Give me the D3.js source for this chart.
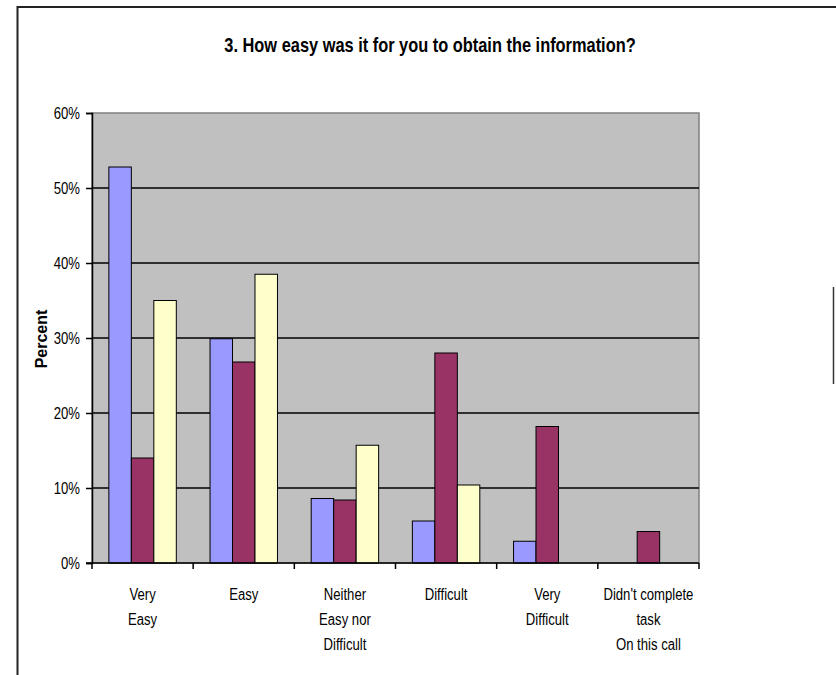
<!DOCTYPE html>
<html>
<head>
<meta charset="utf-8">
<script src="https://cdn.jsdelivr.net/npm/d3@7"></script>
<style>
  body { margin: 0; background: #fff; }
  svg text { font-family: "Liberation Sans", Arial, sans-serif; }
</style>
</head>
<body>
<div id="chart-container"></div>
<script>
// categories and series
const categories = [
  ["Very", "Easy"],
  ["Easy"],
  ["Neither", "Easy nor", "Difficult"],
  ["Difficult"],
  ["Very", "Difficult"],
  ["Didn't complete", "task", "On this call"]
];
const seriesNames = ["s1", "s2", "s3"];
const seriesColors = ["#9999FF", "#993366", "#FFFFCC"];
const s1 = [52.8, 29.9, 8.6, 5.6, 2.9, null];
const s2 = [14.0, 26.8, 8.4, 28.0, 18.2, 4.2];
const s3 = [35.0, 38.5, 15.7, 10.4, null, null];
const yTicks = [0, 10, 20, 30, 40, 50, 60];
const title = "3. How easy was it for you to obtain the information?";

// narrow look: regular Arial-metric font squeezed horizontally
const narrow = 0.82;

const W = 836, H = 675;
const margin = { top: 113, left: 92, right: 137, bottom: 112 };
const width = W - margin.left - margin.right;
const height = H - margin.top - margin.bottom;

const svg = d3.select("#chart-container")
  .append("svg")
    .attr("width", W)
    .attr("height", H);

// outer chart frame (only top and left edges visible)
svg.append("path")
  .attr("d", "M17.5,675 V7 H836")
  .attr("fill", "none")
  .attr("stroke", "#222")
  .attr("stroke-width", 2);

// edge of legend box, clipped at right
svg.append("line")
  .attr("x1", 833.5).attr("x2", 833.5)
  .attr("y1", 287).attr("y2", 384)
  .attr("stroke", "#333")
  .attr("stroke-width", 1.5);

svg.append("text")
  .attr("transform", "translate(430,52) scale(" + narrow + ",1)")
  .attr("text-anchor", "middle")
  .style("font-weight", "bold")
  .style("font-size", "20px")
  .text(title);

const g = svg.append("g")
  .attr("transform", "translate(" + margin.left + "," + margin.top + ")");

const x = d3.scaleBand()
  .domain(d3.range(categories.length))
  .range([0, width])
  .padding(0);

const xs = d3.scaleBand()
  .domain(seriesNames)
  .range([0, x.bandwidth()])
  .paddingInner(0)
  .paddingOuter(0.75);

const y = d3.scaleLinear()
  .domain([0, 60])
  .range([height, 0]);

// plot background
g.append("rect")
  .attr("width", width)
  .attr("height", height)
  .attr("fill", "#C0C0C0")
  .attr("stroke", "#808080")
  .attr("stroke-width", 1.5);

// gridlines
g.selectAll(".grid")
  .data(yTicks.filter(d => d > 0 && d < 60))
  .enter()
  .append("line")
    .attr("x1", 0).attr("x2", width)
    .attr("y1", d => y(d)).attr("y2", d => y(d))
    .attr("stroke", "#000")
    .attr("stroke-width", 1.5);

// bars
const allSeries = [s1, s2, s3];
allSeries.forEach((vals, si) => {
  g.selectAll(".bar" + si)
    .data(vals.map((v, i) => ({ i, v })).filter(d => d.v != null))
    .enter()
    .append("rect")
      .attr("x", d => x(d.i) + xs(seriesNames[si]))
      .attr("y", d => y(d.v))
      .attr("width", xs.bandwidth())
      .attr("height", d => height - y(d.v))
      .attr("fill", seriesColors[si])
      .attr("stroke", "#000")
      .attr("stroke-width", 1);
});

// y axis
const yAxis = g.append("g")
  .call(d3.axisLeft(y).tickValues(yTicks).tickFormat(d => d + "%").tickSize(6));
yAxis.select(".domain").attr("stroke", "#000").attr("stroke-width", 1.5);
yAxis.selectAll(".tick line").attr("stroke", "#000").attr("stroke-width", 1.5);
yAxis.selectAll("text")
  .attr("x", -12 / narrow)
  .attr("transform", "scale(" + narrow + ",1)")
  .style("font-family", "'Liberation Sans', Arial, sans-serif")
  .style("font-size", "16px")
  .attr("fill", "#000");

// x axis baseline and ticks at category boundaries
g.append("line")
  .attr("x1", -6).attr("x2", width)
  .attr("y1", height).attr("y2", height)
  .attr("stroke", "#000")
  .attr("stroke-width", 1.5);
g.selectAll(".xtick")
  .data(d3.range(categories.length + 1))
  .enter()
  .append("line")
    .attr("x1", d => d * x.step()).attr("x2", d => d * x.step())
    .attr("y1", height).attr("y2", height + 6)
    .attr("stroke", "#000")
    .attr("stroke-width", 1.5);

// category labels
const lbl = g.selectAll(".xlabel")
  .data(categories)
  .enter()
  .append("text")
    .attr("text-anchor", "middle")
    .attr("transform", (d, i) => "translate(" + (x(i) + x.bandwidth() / 2) + "," + (height + 37) + ") scale(" + narrow + ",1)")
    .style("font-size", "16px");
lbl.selectAll("tspan")
  .data(d => d)
  .enter()
  .append("tspan")
    .attr("x", 0)
    .attr("dy", (d, i) => i === 0 ? 0 : 25)
    .text(d => d);

// y axis title
svg.append("text")
  .attr("transform", "translate(47,339) rotate(-90)")
  .attr("text-anchor", "middle")
  .style("font-weight", "bold")
  .style("font-size", "16px")
  .text("Percent");
</script>
</body>
</html>
